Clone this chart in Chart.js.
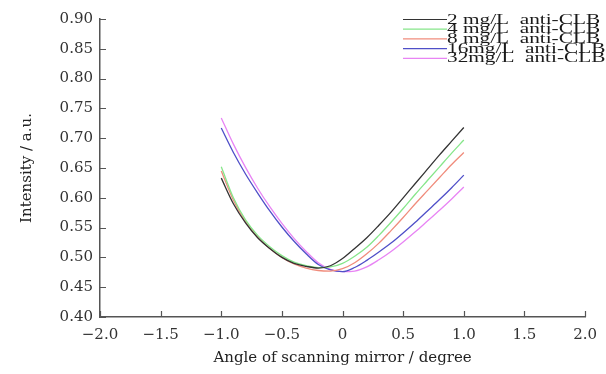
<!DOCTYPE html>
<html>
<head>
<meta charset="utf-8">
<script src="https://cdn.jsdelivr.net/npm/chart.js@4/dist/chart.umd.min.js"></script>
<style>
    html, body { margin: 0; padding: 0; background: #fff; }
    #wrap { width: 606px; height: 374px; }
</style>
</head>
<body>
<div id="wrap"><canvas id="intensity_chart" width="606" height="374"></canvas></div>
<script>
let angles = [-1.0, -0.9, -0.8, -0.7, -0.6, -0.5, -0.4, -0.3, -0.2, -0.1, 0.0, 0.1, 0.2, 0.3, 0.4, 0.5, 0.6, 0.7, 0.8, 0.9, 1.0];

let seriesLabels = ['2 mg/L  anti-CLB', '4 mg/L  anti-CLB', '8 mg/L  anti-CLB', '16mg/L  anti-CLB', '32mg/L  anti-CLB'];

let clb2 = [0.633, 0.590, 0.558, 0.533, 0.515, 0.500, 0.490, 0.485, 0.482, 0.486, 0.498, 0.515, 0.533, 0.554, 0.576, 0.600, 0.624, 0.648, 0.672, 0.695, 0.718];
let clb4 = [0.652, 0.600, 0.563, 0.537, 0.518, 0.503, 0.492, 0.486, 0.483, 0.484, 0.490, 0.502, 0.517, 0.537, 0.559, 0.582, 0.606, 0.629, 0.652, 0.675, 0.697];
let clb8 = [0.645, 0.596, 0.560, 0.534, 0.515, 0.500, 0.489, 0.482, 0.478, 0.477, 0.481, 0.491, 0.506, 0.524, 0.545, 0.567, 0.590, 0.612, 0.634, 0.656, 0.676];
let clb16 = [0.717, 0.676, 0.640, 0.608, 0.578, 0.551, 0.527, 0.506, 0.488, 0.479, 0.476, 0.483, 0.495, 0.509, 0.524, 0.541, 0.559, 0.578, 0.597, 0.617, 0.638];
let clb32 = [0.734, 0.690, 0.651, 0.616, 0.585, 0.557, 0.532, 0.510, 0.491, 0.480, 0.476, 0.477, 0.484, 0.496, 0.510, 0.526, 0.543, 0.561, 0.579, 0.598, 0.618];

let xTickLabels = ['\u22122.0', '\u22121.5', '\u22121.0', '\u22120.5', '0', '0.5', '1.0', '1.5', '2.0'];
let yTickLabels = ['0.40', '0.45', '0.50', '0.55', '0.60', '0.65', '0.70', '0.75', '0.80', '0.85', '0.90'];

let colors = ['#333333', '#86e68a', '#f08c7c', '#4f4fc8', '#e884f4'];
let axisColor = '#555555';
let serif = 'DejaVu Serif';

function toPoints(values) {
    return values.map(function (v, i) {
        return {x: angles[i], y: v};
    });
}

let allSeries = [clb2, clb4, clb8, clb16, clb32];

let datasets = allSeries.map(function (values, i) {
    return {
        label: seriesLabels[i],
        data: toPoints(values),
        borderColor: colors[i],
        borderWidth: 1.3,
        pointRadius: 0,
        fill: false,
        cubicInterpolationMode: 'monotone'
    };
});

// ticks point into the plot, so draw them by hand
let innerTicks = {
    id: 'innerTicks',
    afterDraw: function (chart) {
        let ctx = chart.ctx;
        let xs = chart.scales.x;
        let ys = chart.scales.y;
        let area = chart.chartArea;
        ctx.save();
        ctx.strokeStyle = axisColor;
        ctx.lineWidth = 1.2;
        ctx.beginPath();
        xs.ticks.forEach(function (t) {
            let px = Math.round(xs.getPixelForValue(t.value)) + 0.5;
            ctx.moveTo(px, area.bottom);
            ctx.lineTo(px, area.bottom - 6);
        });
        ys.ticks.forEach(function (t) {
            let py = Math.round(ys.getPixelForValue(t.value)) + 0.5;
            ctx.moveTo(area.left, py);
            ctx.lineTo(area.left + 6, py);
        });
        ctx.stroke();
        ctx.restore();
    }
};

// compact legend, text stretched wide like the original figure
let squeezedLegend = {
    id: 'squeezedLegend',
    afterDraw: function (chart) {
        let ctx = chart.ctx;
        let top = 19.5;
        let step = 9.7;
        ctx.save();
        chart.data.datasets.forEach(function (ds, i) {
            let y = top + i * step;
            ctx.strokeStyle = ds.borderColor;
            ctx.lineWidth = 1.2;
            ctx.beginPath();
            ctx.moveTo(403, y);
            ctx.lineTo(447, y);
            ctx.stroke();

            ctx.save();
            ctx.translate(447, y);
            ctx.scale(1.52, 1);
            ctx.fillStyle = '#1a1a1a';
            ctx.font = '14px "Liberation Serif"';
            ctx.textBaseline = 'middle';
            ctx.fillText(ds.label, 0, 0.5);
            ctx.restore();
        });
        ctx.restore();
    }
};

new Chart(document.getElementById('intensity_chart'), {
    type: 'line',
    data: {datasets: datasets},
    options: {
        responsive: false,
        animation: false,
        layout: {padding: {top: 19, right: 20, left: 0, bottom: 0}},
        plugins: {
            legend: {display: false},
            tooltip: {enabled: false}
        },
        scales: {
            x: {
                type: 'linear',
                min: -2,
                max: 2,
                ticks: {
                    stepSize: 0.5,
                    padding: 9,
                    color: '#333',
                    font: {family: serif, size: 15},
                    callback: function (value, index) {
                        return xTickLabels[index];
                    }
                },
                grid: {drawOnChartArea: false, drawTicks: false},
                border: {display: true, color: axisColor, width: 1.5},
                title: {
                    display: true,
                    text: 'Angle of scanning mirror / degree',
                    color: '#222',
                    font: {family: serif, size: 15},
                    padding: {top: 0, bottom: 7}
                },
                afterFit: function (scale) {
                    scale.height = 57;
                }
            },
            y: {
                min: 0.4,
                max: 0.9,
                ticks: {
                    stepSize: 0.05,
                    padding: 7,
                    color: '#333',
                    font: {family: serif, size: 15},
                    callback: function (value, index) {
                        return yTickLabels[index];
                    }
                },
                grid: {drawOnChartArea: false, drawTicks: false},
                border: {display: true, color: axisColor, width: 1.5},
                title: {
                    display: true,
                    text: 'Intensity / a.u.',
                    color: '#222',
                    font: {family: serif, size: 15},
                    padding: {top: 18, bottom: 0}
                },
                afterFit: function (scale) {
                    scale.width = 100;
                }
            }
        }
    },
    plugins: [innerTicks, squeezedLegend]
});
</script>
</body>
</html>
